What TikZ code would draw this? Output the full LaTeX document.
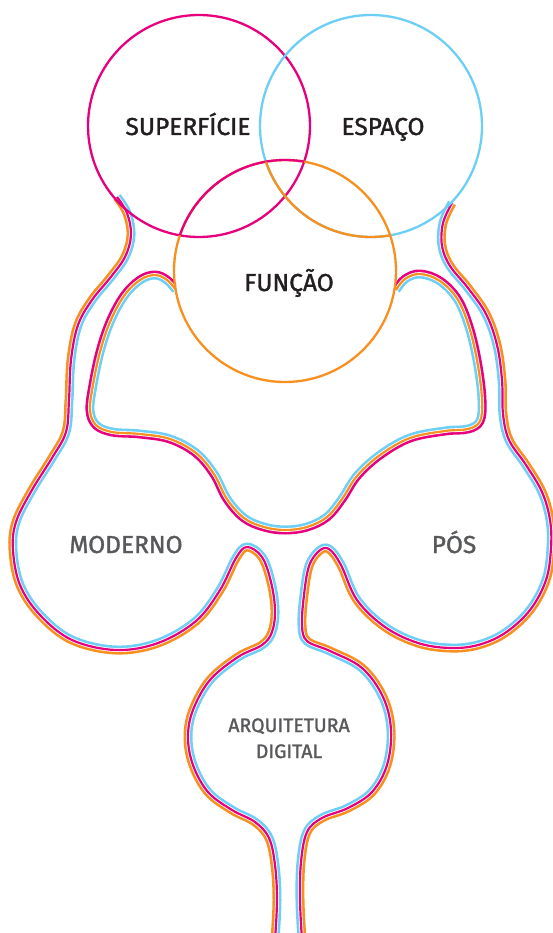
\documentclass[tikz,border=0pt]{standalone}
\usepackage{fontspec}
\setmainfont{Fira Sans}
\newfontfamily\lblfont{Fira Sans}[FakeBold=1.4]
\definecolor{mag}{HTML}{E6007E}
\definecolor{org}{HTML}{F7901E}
\definecolor{cya}{HTML}{6DCFF6}
\definecolor{dark}{HTML}{231F20}
\definecolor{greytxt}{HTML}{58595B}
% #1 points, #2 closing of side A, #3 closing of side B, #4 side A colour, #5 centre colour, #6 side B colour
\newcommand\triline[6]{%
  \begin{scope}
    \clip plot[smooth,tension=0.6] coordinates {#1} #2 -- cycle;
    \draw[band,#4] plot[smooth,tension=0.6] coordinates {#1};
    \draw[bandgap] plot[smooth,tension=0.6] coordinates {#1};
  \end{scope}
  \begin{scope}
    \clip plot[smooth,tension=0.6] coordinates {#1} #3 -- cycle;
    \draw[band,#6] plot[smooth,tension=0.6] coordinates {#1};
    \draw[bandgap] plot[smooth,tension=0.6] coordinates {#1};
  \end{scope}
  \draw[blob,#5] plot[smooth,tension=0.6] coordinates {#1};}
\begin{document}
\begin{tikzpicture}[x=1pt,y=-1pt,
  blob/.style={line width=2.2pt,line cap=butt,line join=round},
  band/.style={line width=9pt,line join=round},
  bandgap/.style={line width=3.8pt,white,line join=round},
  ring/.style={line width=2.3pt},
  toplabel/.style={text=dark,font=\lblfont\fontsize{24.5}{24.5}\selectfont,inner sep=0pt,anchor=base},
  sublabel/.style={text=greytxt,font=\lblfont\fontsize{24.5}{24.5}\selectfont,inner sep=0pt,anchor=base},
  smalllabel/.style={text=greytxt,font=\lblfont\fontsize{19.5}{19.5}\selectfont,inner sep=0pt,anchor=base}]
\useasboundingbox (0,0) rectangle (552,933);
\fill[white] (0,0) rectangle (552,933);
% left outer outline (SUPERFÍCIE -> MODERNO -> ARQUITETURA DIGITAL)
\triline{(117,197) (127,213) (131,235) (125,257) (110,278) (92,300) (78,325) (71,360) (69,400) (66,432) (52,458) (32,490) (16,522) (13,550) (20,585) (40,615) (72,640) (116,650) (158,643) (196,621) (220,590) (236,558) (247,547) (262,557) (271,582) (275,610) (272,632) (262,645) (238,657) (210,680) (193,710) (188,737) (193,765) (208,792) (232,810) (255,822) (269,838) (275,865) (277,900) (275,940)}
  {-- (275,950) -- (-20,950) -- (-20,180) -- (117,180)}
  {-- (275,950) -- (600,950) -- (600,180) -- (117,180)}
  {org}{mag}{cya}
% right outer outline (ESPAÇO -> PÓS -> ARQUITETURA DIGITAL)
\triline{(452,203) (443,223) (442,246) (450,266) (468,288) (486,314) (497,345) (502,380) (503,414) (509,440) (526,465) (542,492) (550,520) (551,548) (546,580) (530,610) (505,633) (478,645) (450,648) (418,643) (385,627) (357,600) (341,565) (329,549) (319,551) (309,566) (304,595) (302,625) (307,641) (330,651) (362,668) (383,697) (391,730) (387,765) (372,792) (348,808) (322,818) (307,832) (301,862) (300,900) (302,940)}
  {-- (302,950) -- (600,950) -- (600,180) -- (452,180)}
  {-- (302,950) -- (-20,950) -- (-20,180) -- (452,180)}
  {org}{mag}{cya}
% inner outline (FUNÇÃO loop)
\triline{(176,290) (167,280) (155,275) (140,280) (124,296) (110,322) (100,352) (93,385) (90,410) (96,425) (112,432) (140,434) (170,439) (196,453) (214,474) (227,499) (244,518) (264,527) (285,530) (307,527) (327,517) (342,499) (357,476) (380,455) (410,438) (445,431) (468,429) (480,421) (482,400) (478,366) (470,330) (458,300) (440,281) (420,274) (405,279) (396,290)}
  {-- (396,200) -- (600,200) -- (600,960) -- (-20,960) -- (-20,200) -- (176,200)}
  {}
  {mag}{org}{cya}
% circles
\coordinate (csup) at (199,126);
\coordinate (cesp) at (371,126);
\coordinate (cfun) at (285,271);
\draw[ring,mag] (csup) circle[radius=111];
\draw[ring,cya] (cesp) circle[radius=111];
\draw[ring,org] (cfun) circle[radius=111];
\begin{scope}
  \clip (csup) circle[radius=111];
  \draw[ring,mag] (cfun) circle[radius=111];
\end{scope}
\begin{scope}
  \clip (cfun) circle[radius=111];
  \draw[ring,org] (cesp) circle[radius=111];
\end{scope}
% labels
\node[toplabel] (tsup) at (188,135) {SUPERFÍCIE};
\node[toplabel] (tesp) at (383,135) {ESPAÇO};
\node[toplabel] (tfun) at (289,291) {FUNÇÃO};
\node[sublabel] (tmod) at (126,553) {MODERNO};
\node[sublabel] (tpos) at (454,553) {PÓS};
\node[smalllabel] (tarq) at (289,732) {ARQUITETURA};
\node[smalllabel] (tdig) at (289,758) {DIGITAL};
\end{tikzpicture}
\end{document}
